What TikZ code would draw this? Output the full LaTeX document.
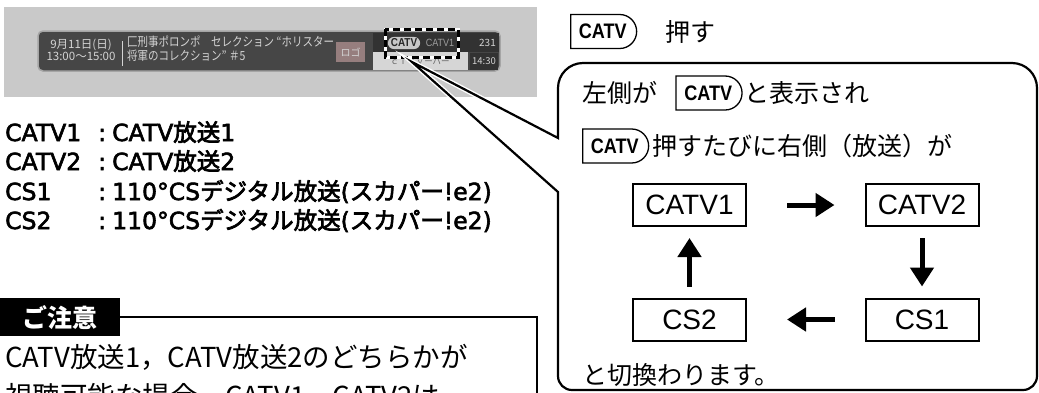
\documentclass[tikz,border=0pt]{standalone}
\usepackage{fontspec}
\setmainfont{Noto Sans CJK JP}
\newfontfamily\listjp[FakeBold=3]{Noto Sans CJK JP}
\newfontfamily\listlatf[FakeBold=2.5]{DejaVu Sans}
\newcommand{\lw}[1]{{\listlatf #1}}
\newfontfamily\boxlat{Liberation Sans}
\newfontfamily\btnfont[FakeStretch=0.86]{Liberation Sans}
\usetikzlibrary{arrows.meta,shapes.misc}
\definecolor{scrbg}{RGB}{201,201,201}
\definecolor{bardark}{RGB}{70,70,70}
\definecolor{barline}{RGB}{165,165,165}
\definecolor{scrtext}{RGB}{212,212,212}
\definecolor{logofill}{RGB}{150,126,126}
\definecolor{panellight}{RGB}{214,214,214}
\definecolor{paneldark}{RGB}{50,50,50}
\begin{document}
\begin{tikzpicture}[x=1pt,y=-1pt,
  scrtxt/.style={text=scrtext,inner sep=0pt,font=\fontsize{11}{11}\selectfont},
  listtxt/.style={inner sep=0pt,font=\listjp\fontsize{23.5}{23.5}\selectfont},
  btxt/.style={inner sep=0pt,font=\fontsize{25}{25}\selectfont},
  notetxt/.style={inner sep=0pt,font=\fontsize{27.5}{27.5}\selectfont},
  btn/.style={rounded rectangle,rounded rectangle west arc=none,draw,line width=1.3pt,
    minimum height=34pt,minimum width=72pt,inner xsep=3pt,font=\btnfont\bfseries\fontsize{21}{21}\selectfont},
  chbox/.style={draw,line width=2pt,minimum width=113pt,minimum height=42pt,inner sep=0pt,
    font=\boxlat\fontsize{28}{28}\selectfont},
  bigarr/.style={line width=5pt,-{Triangle[length=19pt,width=23pt]}},
  bubble/.style={line width=2.2pt,line join=miter}]
\useasboundingbox (0,0) rectangle (1039,392);
\clip (0,0) rectangle (1039,392);

% ---------- screenshot ----------
\fill[scrbg] (4,7) rectangle (537,97);
\draw[fill=bardark,draw=barline,line width=1.5pt,rounded corners=5pt] (38,31) rectangle (500,71);
\fill[paneldark] (373,33) rectangle (499,52);
\fill[panellight] (373,52) rectangle (468,70);
\node[fill=paneldark,text=scrtext,inner sep=0pt,minimum width=28pt,minimum height=17pt,
  font=\fontsize{9.5}{9.5}\selectfont] (clock) at (484,61) {14:30};
\node[scrtxt,align=center,font=\fontsize{11.5}{10.5}\selectfont] (date) at (81,50) {9月11日(日)\\13:00～15:00};
\draw[scrtext,line width=1pt] (122,41) -- (122,66);
\node[scrtxt,anchor=west] (title) at (127,50) {\scalebox{0.84}[1]{\fontsize{12.5}{11}\selectfont\begin{tabular}{@{}l@{}}匚刑事ポロンポ　セレクション “ホリスター\\将軍のコレクション” ＃5\end{tabular}}};
\node[fill=logofill,text=scrtext,inner sep=0pt,minimum width=29pt,minimum height=20pt,
  font=\fontsize{10}{10}\selectfont] (logo) at (350.5,52) {ロゴ};
\node[fill=black!22,text=black!85,rounded corners=6pt,inner xsep=3pt,inner ysep=2pt,
  font=\btnfont\bfseries\fontsize{11.5}{11.5}\selectfont] (pill) at (404,43) {CATV};
\node[text=black!38,inner sep=0pt,font=\btnfont\fontsize{10.5}{10.5}\selectfont] (chname) at (440,43) {CATV1};
\node[text=scrtext,anchor=east,inner sep=0pt,font=\fontsize{10}{10}\selectfont] (num) at (496,43) {231};
\node[text=black!60,inner sep=0pt,font=\fontsize{8.5}{8.5}\selectfont] (cname) at (420,62) {ｃｉｔｙーバー};
\draw[white,line width=3pt] (385,29) rectangle (458,57);
\draw[black,line width=3pt,dash pattern=on 7pt off 4pt] (385,29) rectangle (458,57);

% ---------- bubble ----------
\coordinate (tip) at (412,62);
\coordinate (up) at (558,138);
\coordinate (lo) at (558,192);
\draw[white,line width=5pt] (up) -- (tip) -- (lo);
\draw[bubble] (up) -- (558,88) arc[start angle=180,end angle=270,radius=25]
  -- (1012,63) arc[start angle=270,end angle=360,radius=25]
  -- (1037,376) arc[start angle=0,end angle=90,radius=14]
  -- (572,390) arc[start angle=90,end angle=180,radius=14]
  -- (lo) -- (tip) -- cycle;

% ---------- instructions ----------
\node[btn,anchor=west] (k1) at (570,31.5) {CATV};
\node[btxt,anchor=west] (push) at (665,31.5) {押す};

\node[btxt,anchor=west] (s1a) at (582,93) {左側が};
\node[btn,anchor=west] (k2) at ([xshift=18pt]s1a.east) {CATV};
\node[btxt,anchor=west] (s1b) at ([xshift=2pt]k2.east) {と表示され};

\node[btn,anchor=west] (k3) at (582,146) {CATV};
\node[btxt,anchor=west] (s2) at ([xshift=3pt]k3.east) {押すたびに右側（放送）が};

\node[chbox] (c1) at (689.5,205) {CATV1};
\node[chbox] (c2) at (922,205) {CATV2};
\node[chbox] (s1) at (922,319.5) {CS1};
\node[chbox] (s2b) at (689.5,319.5) {CS2};
\draw[bigarr,shorten <=40pt,shorten >=30pt] (c1) -- (c2);
\draw[bigarr,shorten <=11pt,shorten >=11pt] (c2) -- (s1);
\draw[bigarr,shorten <=30pt,shorten >=40pt] (s1) -- (s2b);
\draw[bigarr,shorten <=11pt,shorten >=11pt] (s2b) -- (c1);

\node[btxt,anchor=west] (end) at (582,375) {と切換わります。};

% ---------- list ----------
\node[listtxt,anchor=base west] (l1a) at (5,141) {\lw{CATV1}};
\node[listtxt,anchor=base west] (l1b) at (92,141) {\makebox[20pt][c]{\lw{:}}\lw{CATV}放送\lw{1}};
\node[listtxt,anchor=base west] (l2a) at (5,170) {\lw{CATV2}};
\node[listtxt,anchor=base west] (l2b) at (92,170) {\makebox[20pt][c]{\lw{:}}\lw{CATV}放送\lw{2}};
\node[listtxt,anchor=base west] (l3a) at (5,200) {\lw{CS1}};
\node[listtxt,anchor=base west] (l3b) at (92,200) {\makebox[20pt][c]{\lw{:}}\lw{110°CS}デジタル放送\lw{(}スカパー\lw{!e2)}};
\node[listtxt,anchor=base west] (l4a) at (5,229) {\lw{CS2}};
\node[listtxt,anchor=base west] (l4b) at (92,229) {\makebox[20pt][c]{\lw{:}}\lw{110°CS}デジタル放送\lw{(}スカパー\lw{!e2)}};

% ---------- note ----------
\node[fill=black,text=white,anchor=north west,minimum width=120pt,minimum height=38pt,inner sep=0pt,
  font=\bfseries\fontsize{25}{25}\selectfont] (chui) at (0,298) {ご注意};
\coordinate (nc) at (537,317);
\coordinate (nb) at (537,400);
\draw[line width=1.5pt] (chui.east |- nc) -- (nc) -- (nb);
\node[notetxt,anchor=west] (n1) at (5,357) {CATV放送1，CATV放送2のどちらかが};
\node[notetxt,anchor=west] (n2) at (5,396) {視聴可能な場合，CATV1，CATV2は};
\end{tikzpicture}
\end{document}
